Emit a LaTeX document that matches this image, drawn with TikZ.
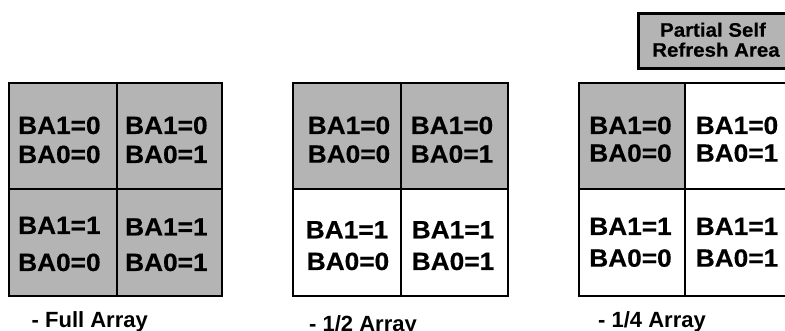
\documentclass[tikz,border=0pt]{standalone}
\usepackage{fontspec}
\setmainfont{Liberation Sans}
\newfontfamily\widefont[FakeStretch=1.05,FakeBold=0.4]{Liberation Sans}
\definecolor{cellgray}{RGB}{180,180,180}
\begin{document}
\begin{tikzpicture}[x=1pt,y=-1pt,
  gridline/.style={line width=2.6pt,draw=black},
  shaded/.style={fill=cellgray},
  celltxt/.style={inner sep=0pt,font=\widefont\bfseries\fontsize{25}{25}\selectfont},
  legtxt/.style={inner sep=0pt,font=\widefont\bfseries\fontsize{19.5}{19.5}\selectfont},
  captxt/.style={inner sep=0pt,anchor=base west,font=\bfseries\fontsize{22}{22}\selectfont}]
\useasboundingbox (0,0) rectangle (785,331);
\clip (0,0) rectangle (785,331);
% legend
\node[draw=black,line width=2.6pt,fill=cellgray,minimum width=152pt,minimum height=55pt,anchor=north west,inner sep=0pt] (legend) at (637,12) {};
\node[legtxt,anchor=base] (leg1) at (713,36.7) {Partial Self};
\node[legtxt,anchor=base] (leg2) at (716,56.7) {Refresh Area};
% grid 1 (full array)
\fill[shaded] (9,83) rectangle (222,296);
\draw[gridline] (9,83) rectangle (222,296);
\draw[gridline] (117,83) -- (117,296);
\draw[gridline] (9,189) -- (222,189);
\node[celltxt,anchor=base west] (a1) at (18,134) {BA1=0};
\node[celltxt,anchor=base west] (a2) at (18,163) {BA0=0};
\node[celltxt,anchor=base west] (b1) at (125,134) {BA1=0};
\node[celltxt,anchor=base west] (b2) at (125,163) {BA0=1};
\node[celltxt,anchor=base west] (c1) at (18,234) {BA1=1};
\node[celltxt,anchor=base west] (c2) at (18,271) {BA0=0};
\node[celltxt,anchor=base west] (d1) at (125,235.5) {BA1=1};
\node[celltxt,anchor=base west] (d2) at (125,271) {BA0=1};
\node[captxt] (cap1) at (31.5,327) {- Full Array};
% grid 2 (1/2 array)
\fill[shaded] (293,83) rectangle (508,189);
\draw[gridline] (293,83) rectangle (508,296);
\draw[gridline] (401,83) -- (401,296);
\draw[gridline] (293,189) -- (508,189);
\node[celltxt,anchor=base] (e1) at (349,134) {BA1=0};
\node[celltxt,anchor=base] (e2) at (349,162.7) {BA0=0};
\node[celltxt,anchor=base] (f1) at (452,134) {BA1=0};
\node[celltxt,anchor=base] (f2) at (452,162.7) {BA0=1};
\node[celltxt,anchor=base] (g1) at (347,238.3) {BA1=1};
\node[celltxt,anchor=base] (g2) at (348,270) {BA0=0};
\node[celltxt,anchor=base] (h1) at (453,238.3) {BA1=1};
\node[celltxt,anchor=base] (h2) at (453,270) {BA0=1};
\node[captxt] (cap2) at (309,331) {- 1/2 Array};
% grid 3 (1/4 array)
\fill[shaded] (579,83) rectangle (685,189);
\draw[gridline] (579,83) rectangle (793,296);
\draw[gridline] (685,83) -- (685,296);
\draw[gridline] (579,189) -- (793,189);
\node[celltxt,anchor=base] (i1) at (630.5,134) {BA1=0};
\node[celltxt,anchor=base] (i2) at (630.5,161.7) {BA0=0};
\node[celltxt,anchor=base] (j1) at (737,134) {BA1=0};
\node[celltxt,anchor=base] (j2) at (737,161.7) {BA0=1};
\node[celltxt,anchor=base] (k1) at (630.5,235) {BA1=1};
\node[celltxt,anchor=base] (k2) at (630.5,266.7) {BA0=0};
\node[celltxt,anchor=base] (l1) at (737,235) {BA1=1};
\node[celltxt,anchor=base] (l2) at (737,266.7) {BA0=1};
\node[captxt] (cap3) at (598,327.3) {- 1/4 Array};
\end{tikzpicture}
\end{document}
